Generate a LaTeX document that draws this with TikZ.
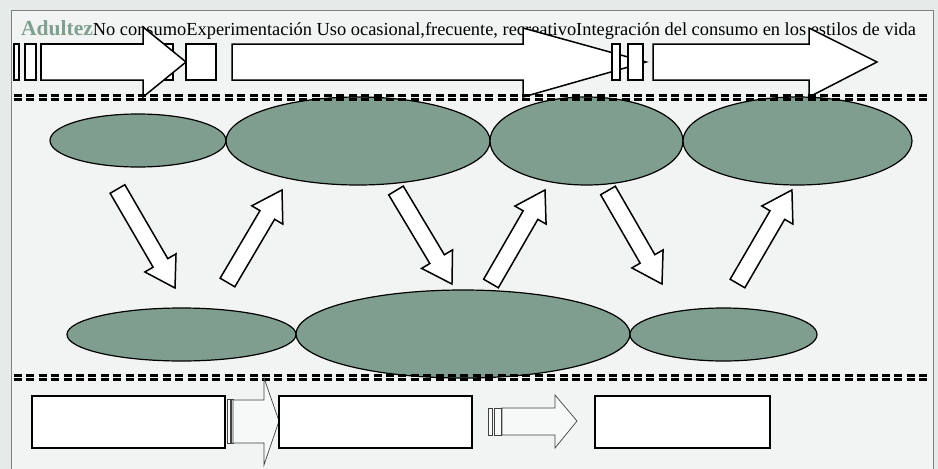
\documentclass[tikz,border=0pt]{standalone}
\usepackage{fontspec}
\setmainfont{Liberation Serif}
\usetikzlibrary{shapes.geometric}
\definecolor{outerbg}{HTML}{E5EBE8}
\definecolor{panelbg}{HTML}{F2F4F3}
\definecolor{ellfill}{HTML}{809E8F}
\definecolor{adcol}{HTML}{7F9F8F}
\tikzset{
  ell/.style={ellipse, draw=black, line width=1.2pt, fill=ellfill, inner sep=0pt},
  wbox/.style={draw=black, line width=1.5pt, fill=white, inner sep=0pt},
  blockarr/.style={draw=black, line width=1.5pt, fill=white, line join=miter},
  thinarr/.style={draw=black!75, line width=0.7pt, fill=white!40!panelbg},
  dline/.style={line width=2.6pt, dash pattern=on 8pt off 4.4pt},
  pics/barrow/.style={code={
    \draw[blockarr] (0,-8.5) -- ({#1-29},-8.5) -- ({#1-29},-18) -- (#1,0)
      -- ({#1-29},18) -- ({#1-29},8.5) -- (0,8.5) -- cycle;}}
}
\begin{document}
\begin{tikzpicture}[x=1pt,y=-1pt]
\useasboundingbox (0,0) rectangle (938,469);
\fill[outerbg] (0,0) rectangle (938,469);
\fill[panelbg] (11,10) rectangle (933,469);
\draw[black!50, line width=0.8pt] (11,469) -- (11,10) -- (933,10) -- (933,469);
% title text
\node[anchor=base west, inner sep=0pt] (title) at (21,35)
  {{\fontsize{21.5}{21.5}\selectfont\bfseries\color{adcol}Adultez}{\fontsize{18.4}{18.4}\selectfont No consumoExperimentación Uso ocasional,frecuente, recreativoIntegración del consumo en los estilos de vida}};
% top row of bars, boxes and arrows
\draw[wbox] (14,44) rectangle (19,80);
\draw[wbox] (25,44) rectangle (36,80);
\draw[wbox] (41,44) rectangle (173,80);
\draw[blockarr] (41,44) -- (143,44) -- (143,27) -- (186,62) -- (143,97) -- (143,80) -- (41,80) -- cycle;
\draw[wbox] (186,44) rectangle (216,80);
\draw[blockarr] (232,44) -- (523,44) -- (523,28) -- (646,62) -- (523,97) -- (523,80) -- (232,80) -- cycle;
\draw[wbox] (612,44) rectangle (620,80);
\draw[wbox] (628,44) rectangle (643,80);
\draw[blockarr] (653,44) -- (809,44) -- (809,28) -- (877,62) -- (809,97) -- (809,80) -- (653,80) -- cycle;
% top ellipses
\node[ell, minimum width=176pt, minimum height=53pt] (e1) at (138,140.5) {};
\node[ell, minimum width=264pt, minimum height=88pt] (e2) at (358,141) {};
\node[ell, minimum width=193pt, minimum height=88pt] (e3) at (586.5,141) {};
\node[ell, minimum width=229pt, minimum height=88pt] (e4) at (797.5,141) {};
% bottom ellipses
\node[ell, minimum width=229pt, minimum height=53pt] (b1) at (181.5,334.5) {};
\node[ell, minimum width=334pt, minimum height=88pt] (b2) at (463,334) {};
\node[ell, minimum width=187pt, minimum height=53pt] (b3) at (723.5,334.5) {};
% dashed separators
\draw[dline] (14,95.3) -- (931,95.3);
\draw[dline] (14,99.5) -- (931,99.5);
\draw[dline] (14,375.3) -- (931,375.3);
\draw[dline] (14,379.6) -- (931,379.6);
% diagonal block arrows
\pic[rotate=-59.85] at (117.5,189) {barrow=114.5};
\pic[rotate=59.5] at (227.5,282.5) {barrow=107.4};
\pic[rotate=-59.1] at (396,190.5) {barrow=109};
\pic[rotate=60.0] at (491,283.5) {barrow=108};
\pic[rotate=-60.0] at (608,190.5) {barrow=108};
\pic[rotate=59.8] at (737.5,283.5) {barrow=108.2};
% bottom row
\node[wbox, minimum width=193pt, minimum height=52pt] (c1) at (128.5,422) {};
\draw[thinarr] (227,399) rectangle (230,443);
\draw[thinarr] (231,399) rectangle (233,443);
\draw[thinarr] (233,400) -- (264,400) -- (264,378) -- (279,421) -- (264,465) -- (264,443) -- (233,443) -- cycle;
\node[wbox, minimum width=193pt, minimum height=52pt] (c2) at (375.5,422) {};
\draw[thinarr] (488,408) rectangle (492,435);
\draw[thinarr] (494,408) rectangle (501,435);
\draw[thinarr] (502,408) -- (555,408) -- (555,395) -- (577,421) -- (555,448) -- (555,435) -- (502,435) -- cycle;
\node[wbox, minimum width=175pt, minimum height=52pt] (c3) at (682.5,422) {};
\end{tikzpicture}
\end{document}
